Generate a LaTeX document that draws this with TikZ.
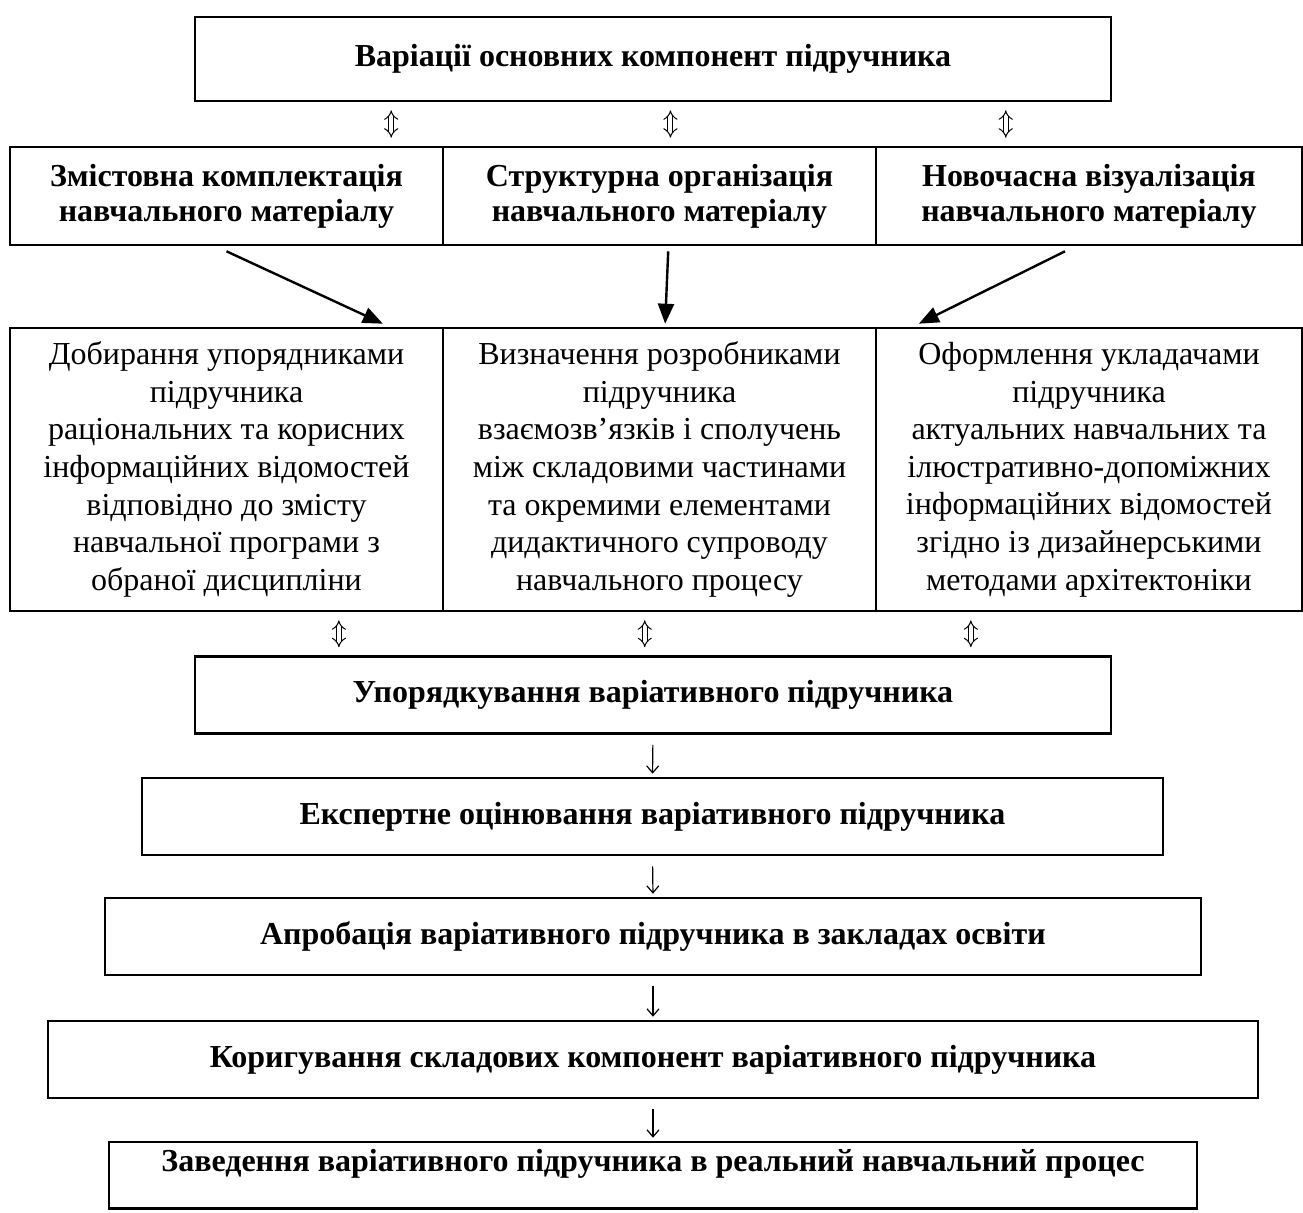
\documentclass[tikz,border=0pt]{standalone}
\usepackage{fontspec}
\setmainfont{Liberation Serif}
\usetikzlibrary{arrows.meta,calc}
\tikzset{
  stage/.style={
    rectangle,
    line width=1.3pt,
    draw=black,
    align=center,
    font=\fontsize{16}{17.5}\selectfont\bfseries
    },
  head/.style={
    stage,
    minimum height=49pt
    },
  body/.style={
    rectangle,
    line width=1.3pt,
    draw=black,
    align=center,
    minimum height=141.5pt,
    font=\fontsize{16}{18.8}\selectfont
    },
  step box/.style={
    stage,
    minimum height=38.5pt
    },
  dbl/.style={
    double, double distance=2pt, line width=0.5pt,
    {Implies[length=4pt,width=7pt]}-{Implies[length=4pt,width=7pt]},
    shorten <=4pt, shorten >=4pt
    },
  diag/.style={line width=1.2pt,-{Triangle[length=10pt,width=8pt]}},
  down/.style={line width=0.6pt,-{Straight Barb[length=3.5pt,width=6pt]},
    shorten <=5pt, shorten >=1.5pt},
}
\begin{document}
\begin{tikzpicture}[x=1pt,y=-1pt]
  \useasboundingbox (0,0) rectangle (651.5,606);

  % top
  \node[stage, minimum width=458pt, minimum height=42pt] (top) at (326.5,29.5)
    {Варіації основних компонент підручника};

  % components
  \node[head, minimum width=216.5pt] (kompl) at (113.25,98)
    {Змістовна комплектація\\навчального матеріалу};
  \node[head, minimum width=216.5pt] (strukt) at (329.75,98)
    {Структурна організація\\навчального матеріалу};
  \node[head, minimum width=213pt] (vizual) at (544.5,98)
    {Новочасна візуалізація\\навчального матеріалу};

  \node[body, minimum width=216.5pt] (dobir) at (113.25,234.75)
    {Добирання упорядниками\\підручника\\раціональних та корисних\\інформаційних відомостей\\відповідно до змісту\\навчальної програми з\\обраної дисципліни};
  \node[body, minimum width=216.5pt] (vyznach) at (329.75,234.75)
    {Визначення розробниками\\підручника\\взаємозв’язків і сполучень\\між складовими частинами\\та окремими елементами\\дидактичного супроводу\\навчального процесу};
  \node[body, minimum width=213pt] (oform) at (544.5,234.75)
    {Оформлення укладачами\\підручника\\актуальних навчальних та\\ілюстративно-допоміжних\\інформаційних відомостей\\згідно із дизайнерськими\\методами архітектоніки};

  % stages
  \node[step box, minimum width=458pt] (uporyad) at (326.5,347.5)
    {Упорядкування варіативного підручника};
  \node[step box, minimum width=510.5pt] (ekspert) at (326.25,408.25)
    {Експертне оцінювання варіативного підручника};
  \node[step box, minimum width=548pt] (aprob) at (326.5,468.25)
    {Апробація варіативного підручника в закладах освіти};
  \node[step box, minimum width=605pt] (koryg) at (326.5,529.75)
    {Коригування складових компонент варіативного підручника};
  \node[stage, minimum width=544pt, inner ysep=3.3pt, text height=11.5pt,
    text depth=15.2pt] (zaved) at (326.5,587.65)
    {Заведення варіативного підручника в реальний навчальний процес};

  % links
  \draw[dbl] ($(top.south west)!.215!(top.south east)$) coordinate (t1) -- (t1 |- kompl.north);
  \draw[dbl] ($(top.south west)!.519!(top.south east)$) coordinate (t2) -- (t2 |- strukt.north);
  \draw[dbl] ($(top.south west)!.884!(top.south east)$) coordinate (t3) -- (t3 |- vizual.north);

  \draw[diag] ([yshift=-2.5pt]kompl.south) -- ([yshift=1.5pt]$(dobir.north west)!.859!(dobir.north east)$);
  \draw[diag] ([yshift=-2.5pt]$(strukt.south west)!.52!(strukt.south east)$) -- ([yshift=1.5pt]$(vyznach.north west)!.513!(vyznach.north east)$);
  \draw[diag] ([yshift=-2.5pt]$(vizual.south west)!.444!(vizual.south east)$) -- ([yshift=1.5pt]$(oform.north west)!.103!(oform.north east)$);

  \draw[dbl] ($(uporyad.north west)!.158!(uporyad.north east)$) coordinate (b1) -- (b1 |- dobir.south);
  \draw[dbl] ($(uporyad.north west)!.491!(uporyad.north east)$) coordinate (b2) -- (b2 |- vyznach.south);
  \draw[dbl] ($(uporyad.north west)!.846!(uporyad.north east)$) coordinate (b3) -- (b3 |- oform.south);

  \draw[down] (uporyad.south) -- (ekspert.north);
  \draw[down] (ekspert.south) -- (aprob.north);
  \draw[down] (aprob.south) -- (koryg.north);
  \draw[down] (koryg.south) -- (zaved.north);
\end{tikzpicture}
\end{document}
